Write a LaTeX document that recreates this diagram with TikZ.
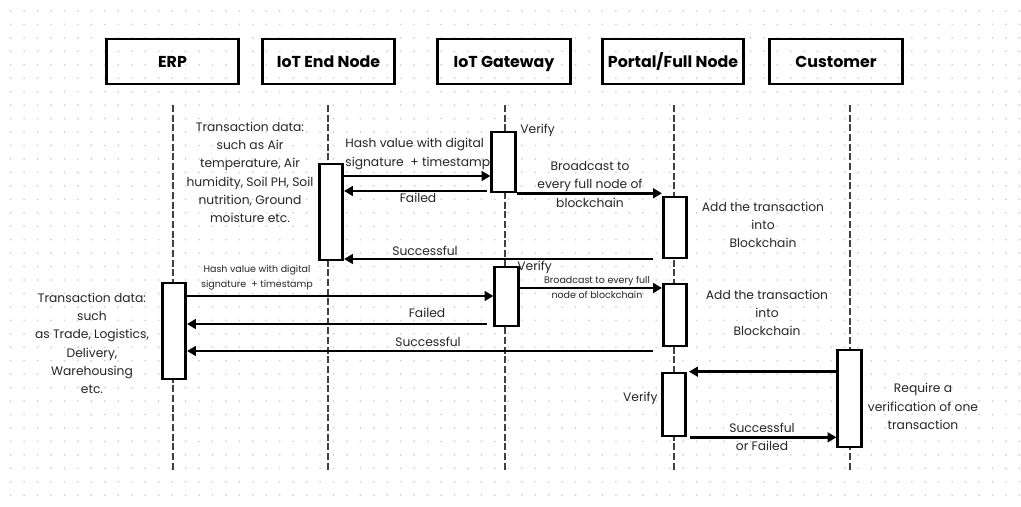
\documentclass[tikz,border=0pt]{standalone}
\usepackage{fontspec}
\setmainfont{Poppins}
\usetikzlibrary{arrows.meta}

\begin{document}
\begin{tikzpicture}[x=0.02cm, y=-0.02cm,
	actor/.style={draw, line width=1.7pt, minimum width=2.66cm, minimum height=0.9cm, text height=1.6ex, text depth=0.4ex, font=\fontsize{9}{10}\selectfont\bfseries},
	act/.style={draw, fill=white, line width=1.5pt, minimum width=0.47cm, inner sep=0pt},
	life/.style={line width=1.1pt, dash pattern=on 4pt off 1.5pt, black!75},
	msg/.style={line width=1.5pt, -{Triangle[length=5pt, width=5.5pt]}},
	txt/.style={align=center, font=\fontsize{7}{10.4}\selectfont, text=black!85, inner sep=0pt},
	small/.style={align=center, font=\fontsize{5.4}{8.4}\selectfont, text=black!85, inner sep=0pt}]
	
	\useasboundingbox (0,0) rectangle (1021,507);
	\fill[white] (0,0) rectangle (1021,507);
	
	% dotted grid
	\foreach \i in {0,...,75}
		\foreach \j in {0,...,36}
			\fill[black!18] (10.7+13.45*\i, 11+13.45*\j) circle[radius=0.55pt];
	
	% Participants
	\node[actor] (erp) at (172.5,61.5) {ERP};
	\node[actor] (iot) at (328.5,61.5) {IoT End Node};
	\node[actor] (gw) at (504,61.5) {IoT Gateway};
	\node[actor] (portal) at (673,61.5) {Portal/Full Node};
	\node[actor] (cust) at (836,61.5) {Customer};
	
	% Lifelines
	\coordinate (erpT) at (173,105);
	\coordinate (iotT) at (328,105);
	\coordinate (gwT) at (505,105);
	\coordinate (portalT) at (674,105);
	\coordinate (custT) at (850,105);
	\foreach \p in {erpT,iotT,gwT,portalT,custT}
		\draw[life] (\p) -- (\p |- 0,472);
	
	% Activation boxes
	\node[act, minimum height=1.92cm] (iot1) at (331,212) {};
	\node[act, minimum height=1.2cm] (gw1) at (503.5,162) {};
	\node[act, minimum height=1.22cm] (portal1) at (675,227.5) {};
	\node[act, minimum height=1.92cm] (erp1) at (174,331) {};
	\node[act, minimum height=1.18cm] (gw2) at (506.5,296.5) {};
	\node[act, minimum height=1.24cm] (portal2) at (675,315) {};
	\node[act, minimum height=1.26cm] (portal3) at (674,404.5) {};
	\node[act, minimum height=1.94cm] (cust1) at (849.5,398.5) {};
	
	% Sensor data from the IoT end node
	\node[txt] (iotdata) at (250,172.5) {Transaction data:\\such as Air\\temperature, Air\\humidity, Soil PH, Soil\\nutrition, Ground\\moisture etc.};
	\draw[msg] (iot1.east |- 0,176) -- (gw1.west |- 0,176);
	\node[txt, align=left, anchor=west] (hash1) at (345,154) {Hash value with digital\\signature \ + timestamp};
	\node[txt, anchor=west] (verify1) at (520,130) {Verify};
	\coordinate (fail1) at (487,191);
	\draw[msg] (fail1) -- (iot1.east |- fail1);
	\node[txt] (failed1) at (418,198) {Failed};
	\draw[msg] (gw1.south east) -- (portal1.west |- gw1.south east);
	\node[txt] (bcast1) at (590,184.5) {Broadcast to\\every full node of\\blockchain};
	\node[txt] (add1) at (763,225) {Add the transaction\\into\\Blockchain};
	\coordinate (succ1) at (653,259);
	\draw[msg] (succ1) -- (iot1.east |- succ1);
	\node[txt] (success1) at (425,251) {Successful};
	
	% Business data from the ERP
	\node[txt] (erpdata) at (92,343.5) {Transaction data:\\such\\as Trade, Logistics,\\Delivery,\\Warehousing\\etc.};
	\draw[msg] (erp1.east |- 0,296) -- (gw2.west |- 0,296);
	\node[small] (hash2) at (257,277.5) {Hash value with digital\\signature \ + timestamp};
	\node[txt, anchor=west] (verify2) at (517,267) {Verify};
	\draw[msg] (gw2.east |- 0,288) -- (portal2.west |- 0,288);
	\node[small] (bcast2) at (597,287.5) {Broadcast to every full\\node of blockchain};
	\node[txt] (add2) at (767,313) {Add the transaction\\into\\Blockchain};
	\coordinate (fail2) at (487,324);
	\draw[msg] (fail2) -- (erp1.east |- fail2);
	\node[txt] (failed2) at (427,313) {Failed};
	\coordinate (succ2) at (653,351);
	\draw[msg] (succ2) -- (erp1.east |- succ2);
	\node[txt] (success2) at (428,342) {Successful};
	
	% Customer verification
	\draw[msg] (cust1.west |- portal3.north east) -- ([xshift=1.1pt]portal3.north east);
	\node[txt, anchor=east] (verify3) at (658,398) {Verify};
	\draw[msg] ([xshift=1.7pt]portal3.south east) -- (cust1.west |- portal3.south east);
	\node[txt] (answer) at (762,436.5) {Successful\\or Failed};
	\node[txt] (require) at (923,406.5) {Require a\\verification of one\\transaction};
	
\end{tikzpicture}
\end{document}
